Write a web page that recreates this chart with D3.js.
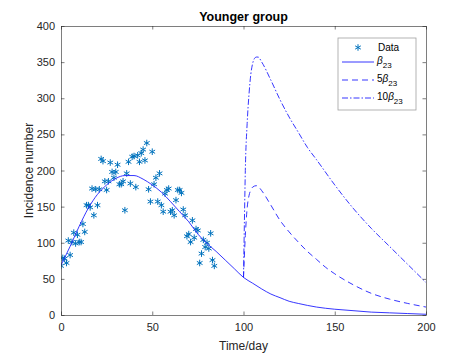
<!DOCTYPE html>
<html>
<head>
<meta charset="utf-8">
<script src="https://cdn.jsdelivr.net/npm/d3@7"></script>
<style>
  body { margin: 0; background: #fff; }
  svg { display: block; font-family: "Liberation Sans", Arial, sans-serif; }
</style>
</head>
<body>
<div id="chart"></div>
<script>
const dataDays = d3.range(0, 85);
const dataValues = [68, 79, 78, 72, 103, 83, 101, 114, 99, 111,
  101, 101, 126, 115, 152, 152, 149, 175, 138, 174,
  152, 174, 216, 213, 185, 173, 185, 211, 198, 190,
  198, 208, 181, 181, 185, 145, 196, 212, 182, 219,
  220, 177, 221, 212, 224, 229, 214, 238, 174, 157,
  226, 181, 190, 157, 196, 152, 143, 168, 173, 175,
  143, 145, 138, 159, 173, 173, 169, 146, 138, 109,
  112, 101, 131, 107, 119, 117, 72, 85, 104, 94,
  100, 92, 113, 76, 68];

// fitted curve, beta_23
const baseDays = [0, 5, 10, 15, 20, 25, 30, 35, 40, 45, 50, 55, 60, 65, 70, 75, 80, 85, 90, 95,
  100, 105, 110, 115, 120, 125, 130, 140, 150, 160, 170, 180, 190, 200];
const baseValues = [69, 95, 123, 148, 167, 180, 189, 193, 193, 188, 180, 170, 157, 143, 129, 112, 99, 88, 76, 64,
  52, 44, 36, 29, 24, 19, 16, 11, 8, 6, 4, 3, 2, 1];

// 5 * beta_23 from day 100
const fiveDays = [100, 101, 102, 103, 104, 105, 107, 108, 110, 115, 120, 125, 130, 135, 140, 145, 150, 160, 170, 180, 190, 200];
const fiveValues = [52, 110, 148, 165, 173, 177, 179, 178, 172, 152, 131, 115, 101, 88, 77, 66, 57, 42, 30, 22, 16, 11];

// 10 * beta_23 from day 100
const tenDays = [100, 100.5, 101, 102, 103, 104, 105, 106, 107, 108, 110, 115, 120, 125, 130, 135, 140, 150, 160, 170, 180, 190, 200];
const tenValues = [52, 130, 200, 265, 305, 333, 348, 355, 357, 357, 350, 325, 298, 274, 253, 232, 215, 180, 148, 120, 95, 70, 45];

const xTicks = [0, 50, 100, 150, 200];
const yTicks = [0, 50, 100, 150, 200, 250, 300, 350, 400];

const width = 471, height = 353;
const margin = {top: 26, right: 45, bottom: 38, left: 61};
const innerW = width - margin.left - margin.right;
const innerH = height - margin.top - margin.bottom;

const axisColor = '#262626';
const lineColor = '#2020ff';
const dotColor = '#0072bd';

const svg = d3.select('#chart').append('svg')
  .attr('width', width)
  .attr('height', height);

const g = svg.append('g')
  .attr('transform', 'translate(' + margin.left + ',' + margin.top + ')');

const x = d3.scaleLinear().domain([0, 200]).range([0, innerW]);
const y = d3.scaleLinear().domain([0, 400]).range([innerH, 0]);

// clip lines to the plotting box
svg.append('defs').append('clipPath').attr('id', 'clip')
  .append('rect').attr('width', innerW).attr('height', innerH);

const plot = g.append('g').attr('clip-path', 'url(#clip)');

// data markers
const star = d3.symbol().type(d3.symbolAsterisk).size(30);
plot.selectAll('path.dot')
  .data(dataDays.map((d, i) => [d, dataValues[i]]))
  .enter().append('path')
  .attr('class', 'dot')
  .attr('d', star)
  .attr('transform', d => 'translate(' + x(d[0]) + ',' + y(d[1]) + ')')
  .attr('fill', 'none')
  .attr('stroke', dotColor)
  .attr('stroke-width', 1);

const line = d3.line()
  .x(d => x(d[0]))
  .y(d => y(d[1]))
  .curve(d3.curveMonotoneX);

const series = [
  {days: baseDays, values: baseValues, dash: null},
  {days: fiveDays, values: fiveValues, dash: '6,4'},
  {days: tenDays, values: tenValues, dash: '6,2,1.5,2'}
];

series.forEach(s => {
  plot.append('path')
    .datum(s.days.map((d, i) => [d, s.values[i]]))
    .attr('d', line)
    .attr('fill', 'none')
    .attr('stroke', lineColor)
    .attr('stroke-width', 0.9)
    .attr('stroke-dasharray', s.dash);
});

// axes (MATLAB-ish box with inward ticks)
const tickLen = 3.5;
const xAxis = g.append('g').attr('transform', 'translate(0,' + innerH + ')')
  .call(d3.axisBottom(x).tickValues(xTicks).tickSizeInner(-tickLen).tickSizeOuter(0).tickPadding(8));
const yAxis = g.append('g')
  .call(d3.axisLeft(y).tickValues(yTicks).tickSizeInner(-tickLen).tickSizeOuter(0).tickPadding(6));
const xTop = g.append('g')
  .call(d3.axisTop(x).tickValues(xTicks).tickSizeInner(-tickLen).tickSizeOuter(0).tickFormat(''));
const yRight = g.append('g').attr('transform', 'translate(' + innerW + ',0)')
  .call(d3.axisRight(y).tickValues(yTicks).tickSizeInner(-tickLen).tickSizeOuter(0).tickFormat(''));

[xAxis, yAxis, xTop, yRight].forEach(a => {
  a.select('.domain').attr('stroke', axisColor).attr('stroke-width', 0.6);
  a.selectAll('line').attr('stroke', axisColor).attr('stroke-width', 0.6);
  a.selectAll('text').attr('fill', axisColor).style('font-size', '11px')
    .style('font-family', '"Liberation Sans", Arial, sans-serif');
});

// labels
svg.append('text')
  .attr('x', margin.left + innerW / 2)
  .attr('y', 21)
  .attr('text-anchor', 'middle')
  .attr('font-weight', 'bold')
  .attr('font-size', 12.5)
  .attr('fill', '#000')
  .text('Younger group');

svg.append('text')
  .attr('x', margin.left + innerW / 2)
  .attr('y', 350)
  .attr('text-anchor', 'middle')
  .attr('font-size', 12)
  .attr('fill', axisColor)
  .text('Time/day');

svg.append('text')
  .attr('transform', 'translate(33,' + (margin.top + innerH / 2) + ') rotate(-90)')
  .attr('text-anchor', 'middle')
  .attr('font-size', 12)
  .attr('fill', axisColor)
  .text('Incidence number');

// legend
const legend = svg.append('g').attr('transform', 'translate(338,38)');
legend.append('rect')
  .attr('width', 78).attr('height', 72)
  .attr('fill', '#fff')
  .attr('stroke', '#a0a0a0')
  .attr('stroke-width', 0.8);

legend.append('path')
  .attr('d', star)
  .attr('transform', 'translate(20,9.5)')
  .attr('fill', 'none')
  .attr('stroke', dotColor)
  .attr('stroke-width', 1);
legend.append('text')
  .attr('x', 40).attr('y', 13)
  .attr('font-size', 10).attr('fill', '#000')
  .text('Data');

const legendRows = [
  {pre: '', dash: null, yy: 26},
  {pre: '5', dash: '6,4', yy: 44},
  {pre: '10', dash: '6,2,1.5,2', yy: 62}
];
legendRows.forEach(r => {
  legend.append('line')
    .attr('x1', 4).attr('x2', 36)
    .attr('y1', r.yy - 2).attr('y2', r.yy - 2)
    .attr('stroke', lineColor)
    .attr('stroke-width', 0.9)
    .attr('stroke-dasharray', r.dash);
  const t = legend.append('text')
    .attr('x', 39).attr('y', r.yy)
    .attr('font-size', 10).attr('fill', '#000');
  if (r.pre) t.append('tspan').text(r.pre);
  t.append('tspan').attr('font-style', 'italic').text('β');
  t.append('tspan').attr('dy', 4).attr('font-size', 8).text('23');
});
</script>
</body>
</html>
